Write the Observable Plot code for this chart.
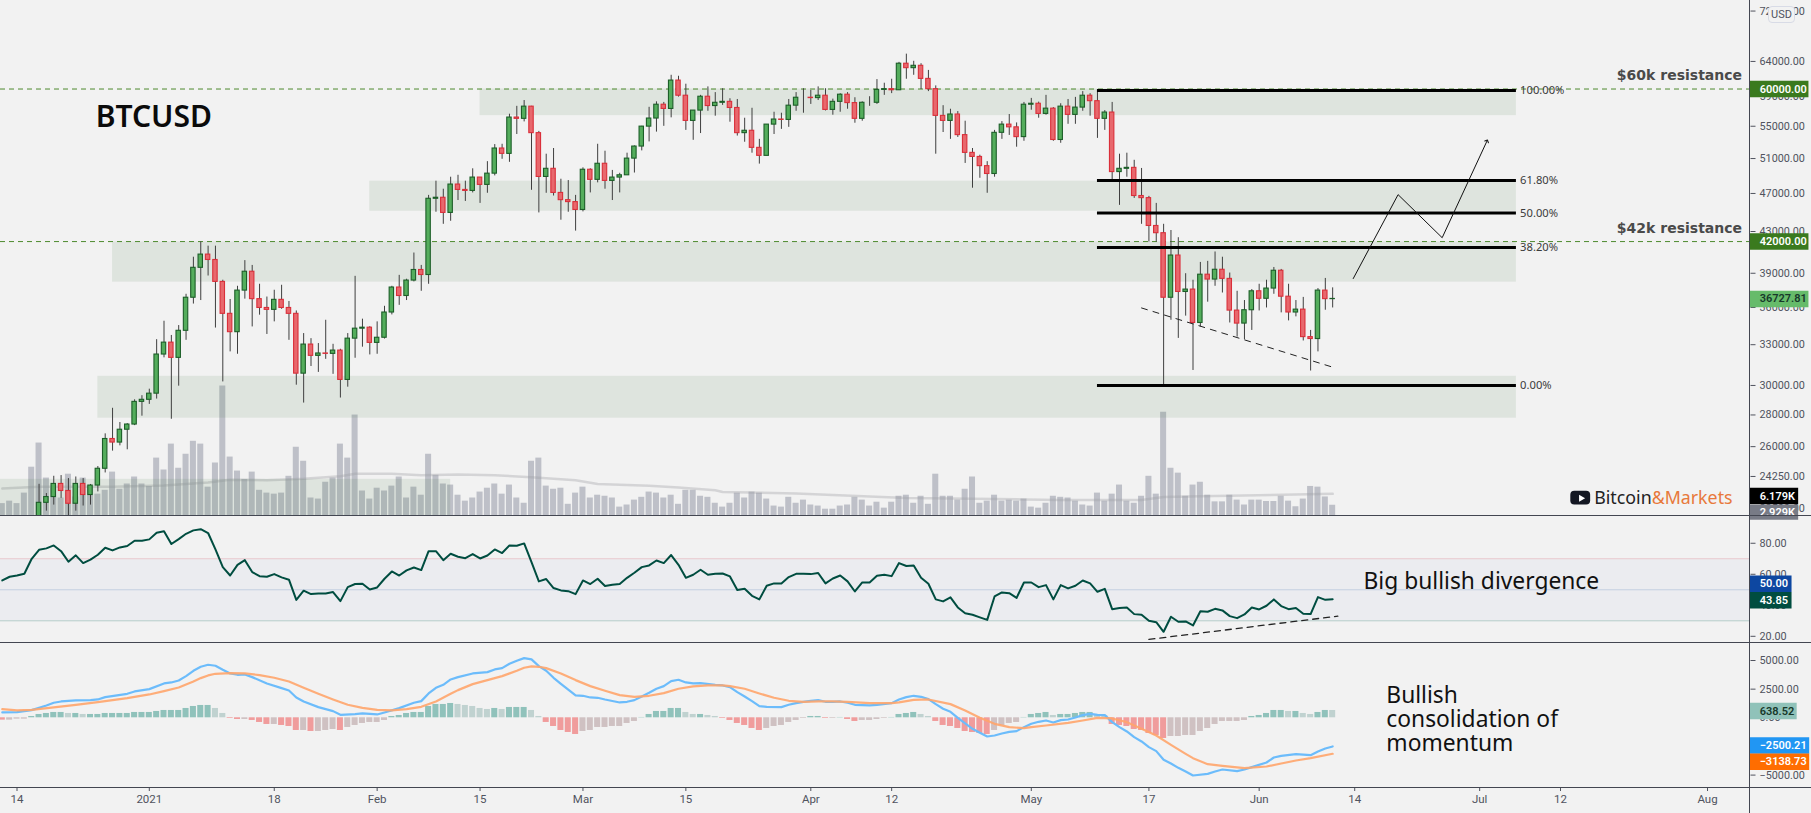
<!DOCTYPE html>
<html><head><meta charset="utf-8">
<script src="https://cdn.jsdelivr.net/npm/d3@7"></script>
<script src="https://cdn.jsdelivr.net/npm/@observablehq/plot@0.6"></script>
<style>
html,body{margin:0;padding:0;background:#f2f2f2;overflow:hidden}
#stage{position:relative;width:1811px;height:813px;background:#f2f2f2;overflow:hidden;font-family:Roboto,sans-serif}
#stage svg{position:absolute;left:0;background:transparent;max-width:none}
.sep{position:absolute;background:#434651;z-index:20}
#usd{position:absolute;left:1768px;top:6px;width:25px;height:15px;line-height:15px;text-align:center;border:1px solid #d8dbe6;border-radius:4px;background:#f2f2f2;color:#50535e;font-size:11px;z-index:30}
</style></head>
<body><div id="stage"><div id="usd">USD</div></div>
<script>
// Daily candles, 2020-12-17 through 2021-06-11
const firstOpen = 21300;
const closes = [
22800,23110,23830,23440,22750,23830,23220,23740,24690,26470,
26250,27050,27380,28870,29010,29430,32250,33160,32000,34090,
36830,39500,40740,40230,38220,35470,33980,37450,39140,36710,
35960,35800,36650,35960,35470,30840,33010,32150,32330,32300,
32550,30390,33470,34260,34340,33140,33540,35580,37720,36980,
38340,39300,38840,46420,46530,44910,47990,47390,47280,48780,
47950,49230,52210,51560,56130,55960,57580,54120,48850,49790,
47060,46270,46060,45220,49680,48520,50380,48400,48780,49040,
50990,52450,54950,56000,57840,57270,61200,59070,55690,57050,
58930,57660,58100,58230,57400,54120,54420,52290,51320,55210,
55870,55820,57710,58790,58790,58740,59070,57140,58230,59210,
58060,55960,58100,58100,59880,59980,59830,63660,63000,63350,
61440,59980,56350,55690,56530,53870,51680,51190,50100,49190,
54160,55210,54860,53620,57840,57970,56610,57310,53260,57580,
56480,57450,59070,58320,55960,56790,49410,49790,49900,46720,
46490,43560,42830,36830,40650,37330,37540,34720,38870,38430,
39320,38490,35740,34670,35770,37390,36740,37630,39230,36920,
35580,35820,33590,33440,37450,36710,36727.81];
const highs = [
23810,23300,24260,24300,24130,24220,24130,23800,24820,26790,
28440,27510,27440,29010,29290,29740,33390,34860,33720,34510,
37130,40490,41960,41550,41550,38370,36680,37830,40170,39720,
38010,36890,37480,37920,36510,35710,33870,33470,33090,34940,
33030,32650,33870,38720,35030,34420,34810,36100,37830,38810,
38460,40890,39720,46790,48370,47470,48820,49040,48370,49790,
48740,50630,52690,52730,56570,57620,58410,57620,54340,51520,
52210,48590,48440,46790,49900,49790,52730,51880,49600,49270,
51640,52530,54990,57490,58230,58150,61960,61820,60680,57050,
59120,60300,59500,60040,58650,58550,56040,57360,53340,55210,
56830,56700,58550,59500,60040,59800,60300,60040,58600,59350,
59500,58790,58230,58930,61340,60820,61390,63860,65100,64020,
63660,62670,60440,57710,57230,56920,55650,52210,51400,50630,
54470,55600,56530,55430,58150,58700,58190,59120,57450,57970,
58550,58840,59640,59350,59790,57050,58150,51520,51640,50790,
49830,46680,45920,43730,43100,42380,38960,38370,40000,40100,
40990,40490,39020,37390,36590,37540,38010,38370,39530,39350,
38010,36590,36860,34120,37630,38530,37690];
const lows = [
21250,22360,22680,23040,21900,22360,22630,22680,23390,24450,
25730,26050,25810,27310,27920,28700,29060,32000,27720,29950,
33340,36290,36590,38750,34310,30250,32450,32270,36710,34400,
35360,33800,34810,35850,33340,30020,28790,31360,30930,31890,
30790,29130,29880,31970,32810,32220,32270,33440,35380,36180,
36590,38220,37390,38010,44980,43730,44040,46230,46130,47060,
45920,47020,48970,50910,50550,53950,55560,47350,44910,47020,
46720,44150,44980,43040,45020,47060,48180,47470,46230,47060,
49300,49300,51920,53020,54250,54990,56090,58880,54470,53220,
54070,56960,56310,57750,55520,53750,52980,51640,50340,51320,
53950,54600,54860,56960,56700,57880,58410,57000,56440,56830,
57230,55390,55650,57620,57880,59120,59360,59790,61390,61960,
59930,59640,51520,54200,53340,53580,50420,47580,48700,47020,
48820,53340,53830,52370,53100,57100,56040,56440,53100,52850,
55250,55250,56960,56310,53460,54470,48480,45710,48820,46460,
43730,41960,41960,30040,34940,33490,35280,31070,34400,36450,
37830,37240,34720,33590,33390,34120,35710,35960,37130,35550,
34890,35220,33290,31030,32450,35770,35960];

// Volume (thousands), 2020-12-12 through 2021-06-11
const volumes = [
3.4,4.1,3.4,6.4,13.8,20.7,10.7,7.7,5.0,11.8,5.3,10.7,8.2,6.1,7.2,12.4,7.5,9.0,11.0,9.0,
8.3,16.4,13.0,20.4,13.5,17.5,21.2,20.4,8.1,15.0,37.0,16.7,12.7,10.3,12.4,7.2,6.4,6.1,6.4,11.2,19.5,15.5,5.0,4.7,9.5,10.7,20.4,16.4,28.7,7.0,4.7,
7.8,7.0,8.4,11.0,5.0,8.1,5.8,17.5,11.5,9.0,8.7,5.8,4.1,5.0,6.7,7.8,9.0,6.1,8.7,5.0,3.5,15.5,16.4,8.4,7.5,7.8,3.2,6.4,
8.1,5.0,5.8,5.5,5.0,2.4,3.0,4.4,5.2,6.7,6.4,5.0,5.8,3.2,7.2,7.2,5.5,5.2,3.5,2.4,3.5,6.4,5.0,6.7,6.4,4.7,2.7,2.4,5.2,3.5,4.4,
3.0,2.7,1.8,1.8,2.7,3.0,5.2,4.4,2.7,3.8,2.1,3.8,5.5,5.8,3.5,5.5,3.2,11.8,5.5,5.5,4.4,7.5,11.0,3.5,4.1,5.8,4.1,4.4,4.1,4.7,
2.4,2.1,3.5,5.5,5.2,5.0,4.1,3.0,2.7,6.4,4.1,6.1,8.7,4.1,3.5,5.5,11.2,6.1,29.5,13.5,12.1,5.5,8.7,9.5,5.8,3.9,3.9,5.8,4.4,3.0,4.4,
4.4,4.0,4.0,5.5,4.1,2.5,4.7,8.3,8.1,5.3,2.929];
const volumeMaDays = [-2,3,13,20,26,29,34,39,44,46,51,55,60,65,70,76,79,86,90,95,96,106,121,137,142,153,156,161,179];
const volumeMa = [7.7,8.2,8.2,8.6,9.4,10.2,10.1,10.5,11.2,11.9,11.9,11.5,11.7,11.5,10.9,10.1,9.0,8.5,8.0,7.2,6.7,6.3,5.0,4.6,4.4,4.4,5.3,5.5,6.179];

// RSI, daily from 2020-12-12
const rsi = [
56.0,58.4,59.2,60.3,70.0,75.8,76.7,78.6,74.9,68.1,72.2,67.2,69.4,72.6,77.1,75.4,77.3,78.2,81.6,81.6,
82.5,86.8,87.8,79.5,82.7,86.1,88.3,89.1,86.6,76.0,64.6,59.2,66.1,69.1,61.4,58.8,58.4,60.1,58.0,56.5,43.5,49.4,47.2,47.6,47.6,48.5,42.7,51.7,53.7,53.9,50.2,
51.5,57.1,61.8,59.2,62.5,64.4,62.7,74.9,74.9,69.1,73.2,71.3,70.4,73.0,70.2,72.1,76.0,73.7,78.6,78.4,79.9,67.8,55.4,56.9,51.1,49.6,49.1,47.2,
56.0,53.7,57.1,52.4,53.2,53.7,57.7,61.0,64.6,65.7,68.9,67.2,72.4,66.1,57.7,59.7,62.9,59.7,60.3,60.5,58.6,49.8,50.6,46.1,43.8,52.6,54.1,54.1,58.2,60.3,60.3,60.1,
60.8,54.1,57.3,59.2,55.4,48.9,54.7,54.7,59.0,59.7,58.8,67.2,65.3,65.7,57.7,53.9,43.8,42.5,45.1,38.6,34.9,33.9,32.2,30.6,45.7,48.3,47.8,44.8,54.7,54.7,51.7,53.0,
43.8,53.0,50.9,52.6,56.0,54.1,48.7,50.6,37.5,38.2,38.6,34.3,33.9,30.0,29.1,22.9,32.6,29.4,29.6,27.0,36.2,35.8,37.7,36.7,33.0,31.7,34.1,38.6,37.3,39.7,43.8,
39.5,37.5,38.2,34.5,34.3,45.3,43.5,43.85];
const rsiDivergenceDays = [154,179.7];
const rsiDivergence = [18,33];

// MACD histogram, daily from 2020-12-12
const macdHist = [
-204,-204,-116,-116,116,291,378,466,466,378,378,291,291,291,378,378,378,378,466,466,
466,553,640,640,640,815,989,1077,1077,815,378,-58,-146,-146,-233,-407,-582,-582,-669,-757,-1106,-1106,-1193,-1193,-1106,-1019,-1106,-844,-669,-495,-407,
-407,-233,116,204,378,466,466,989,1164,1164,1250,1164,1077,989,815,728,815,728,902,902,902,640,116,-407,-757,-1106,-1280,-1455,
-1193,-1106,-844,-844,-757,-757,-495,-320,29,291,553,553,815,815,466,291,291,204,116,-58,-233,-495,-669,-931,-1106,-931,-757,-669,-407,-233,-58,116,
116,-58,-58,29,-146,-320,-233,-233,-146,-58,29,291,378,466,291,116,-320,-669,-757,-931,-1193,-1280,-1368,-1455,-1106,-669,-495,-407,29,291,378,466,
204,291,291,378,466,466,291,204,-582,-669,-757,-1019,-1106,-1368,-1542,-1804,-1630,-1630,-1542,-1542,-1193,-931,-582,-320,-320,-320,-233,116,204,
378,640,640,553,553,378,291,466,640,638.52];
const macdDays = [-2,0,2,4,5,6,8,10,11,12,15,16,18,20,21,22,23,24,25,26,27,28,29,30,31,32,34,36,37,38,39,41,43,44,46,47,49,50,52,54,55,56,57,58,59,
60,62,64,65,66,67,68,69,70,71,72,73,74,76,77,78,79,80,82,83,84,85,86,87,88,89,90,91,92,93,95,96,97,98,99,100,101,102,104,105,106,107,108,109,110,111,112,113,114,116,117,119,120,
121,122,123,124,125,126,127,128,129,130,131,132,133,134,135,136,137,138,139,140,141,142,143,144,145,146,147,148,149,150,151,152,153,154,155,156,157,158,159,160,162,163,164,166,167,168,170,171,172,174,176,177,178,179];
const macdLine = [466,495,669,1077,1310,1426,1513,1542,1600,1804,2095,2299,2503,2997,3085,3259,3638,4103,4452,4627,4540,4190,3870,3754,3783,3550,2997,2590,2386,1775,1426,931,582,262,320,378,291,466,844,1310,1455,2124,2619,2881,3347,
3550,3870,3987,4220,4336,4714,4976,5209,5093,4511,4103,3492,2968,1950,1921,1775,1746,1600,1339,1397,1542,1862,2183,2532,2765,3201,3317,3085,2997,3026,2881,2823,2677,2241,1862,1455,1019,960,931,1135,1280,1397,1484,1542,1397,1397,1426,1310,1135,1077,1135,1280,1600,
1804,1921,1833,1630,1193,786,524,0,-495,-960,-1310,-1630,-1542,-1368,-1222,-1164,-815,-524,-349,-233,-407,-204,-146,29,233,349,262,233,-378,-815,-1193,-1688,-2066,-2561,-2910,-3667,-3987,-4365,-4685,-5034,-4889,-4685,-4511,-4656,-4511,-4307,-3899,-3463,-3317,-3172,-3259,-2939,-2677,-2500.21];
const signalDays = [-2,0,2,5,8,11,15,18,20,22,24,25,26,27,29,31,33,35,37,39,41,43,45,47,49,51,53,55,57,59,
60,61,62,64,66,68,69,70,71,72,74,75,76,78,80,82,84,86,88,90,92,94,96,97,99,101,103,105,107,109,111,113,116,119,120,
122,124,127,129,131,133,135,137,138,140,143,145,147,149,151,153,155,157,159,160,162,164,167,170,172,174,176,179];
const signalLine = [757,640,698,902,1135,1368,1717,2037,2328,2648,3172,3463,3696,3841,3899,3870,3725,3492,3172,2619,2095,1600,1135,873,698,640,757,960,1426,2095,
2415,2677,2939,3288,3638,4103,4365,4481,4452,4336,3870,3579,3288,2765,2357,1979,1833,1921,2153,2532,2735,2823,2823,2765,2532,2124,1746,1484,1397,1426,1426,1397,1280,1280,1339,
1571,1600,1193,640,0,-524,-815,-902,-815,-669,-437,-233,0,-58,-378,-960,-1542,-2357,-3143,-3521,-4045,-4190,-4394,-4249,-3987,-3725,-3521,-3138.73];

// Reference levels and annotations
const resistances = [60000,42000];
const fibLevels = [59780,48440,44910,41410,29990];
const fibLabels = ["100.00%","61.80%","50.00%","38.20%","0.00%"];
const zoneFrom = [63,48,13,11,-3];
const zoneTo = [204,204,204,204,59];
const zoneTop = [60000,48370,41960,30650,24090];
const zoneBottom = [56380,45090,38200,27790,22134];
const wedgeDays = [153,179];
const wedge = [35960,31310];
const pathDays = [181.8,187.9,193.9,200];
const path = [38520,46870,42380,53140];
const priceTicks = [72000,64000,59000,55000,51000,47000,43000,39000,36000,33000,30000,28000,26000,24250,22500];
const rsiTicks = [80,60,40,20];
const macdTicks = [5000,2500,0,-2500,-5000];
const timeDays = [0,18,35,49,63,77,91,108,119,138,154,169,182,199,210,230];
const timeLabels = ["14","2021","18","Feb","15","Mar","15","Apr","12","May","17","Jun","14","Jul","12","Aug"];

const INK="#50535e", UP="#54ad5c", UPB="#1c5e28", DOWN="#e8686d", DOWNB="#da2f3a", WICK="#3f3f3f";
const FONT="Roboto, sans-serif", TEXT="'Noto Sans', sans-serif";
const day = d => new Date(Date.UTC(2020,11,14)+d*864e5);
const xDomain = [day(-2.245), day(235.78)];
const base = {width:1811, marginLeft:0, marginRight:61.5, marginTop:0, marginBottom:0};
const styleOf = top => ({top:top+"px", background:"transparent", overflow:"visible", fontFamily:FONT, fontSize:"10.8px"});
const xOpt = {domain:xDomain, axis:null};
const axisEnd = day(235.78);
const stage = document.getElementById("stage");

const candles = closes.map((c,i)=>({d:3+i, date:day(3+i), open:i?closes[i-1]:firstOpen, close:c, high:highs[i], low:lows[i]}));
const volumeRows = volumes.map((v,i)=>({d:-2+i, v}));
const rsiRows = rsi.map((v,i)=>({d:-2+i, v}));
const histRows = macdHist.map((v,i)=>{
  const p = i?macdHist[i-1]:0;
  return {d:-2+i, v, c: v>=0 ? (v>=p?"#90c2bb":"#c0d2d0") : (v<p?"#f09c9c":"#cfc1c2")};
});
const lineRows = (ds,vs)=>ds.map((d,i)=>({d,v:vs[i]}));
const zones = zoneFrom.map((f,i)=>({f,t:zoneTo[i],a:zoneTop[i],b:zoneBottom[i]}));
const fibs = fibLevels.map((v,i)=>({v,label:fibLabels[i]}));
const tagMarks = (tags) => [
  Plot.ruleY(tags,{y:"at",x1:axisEnd,x2:d=>day(d.end),stroke:"bg",strokeWidth:d=>d.h||16.5}),
  Plot.text(tags,{x:day(237.1),y:"at",text:"label",fill:"ink",textAnchor:"start",fontWeight:600,fontSize:11,fontFamily:FONT})
];

// Volume layer
const volumePane = Plot.plot({...base, height:515, style:styleOf(0), x:xOpt,
  y:{domain:[0,147.14], axis:null}, color:{type:"identity"},
  marks:[
    Plot.rectY(volumeRows,{x1:d=>day(d.d-0.41),x2:d=>day(d.d+0.41),y1:0,y2:"v",fill:"#bec0c8"}),
    Plot.line(lineRows(volumeMaDays,volumeMa),{x:d=>day(d.d),y:"v",stroke:"#9e9ea2",strokeOpacity:.35,strokeWidth:2.5})
  ]});
stage.appendChild(volumePane);

// Price pane
const pricePane = Plot.plot({...base, height:515, style:styleOf(0), x:xOpt,
  y:{type:"log", domain:[22134,73800], range:[515,0], axis:null},
  color:{type:"identity"},
  marks:[
    Plot.rect(zones,{x1:d=>day(d.f),x2:d=>day(d.t),y1:"a",y2:"b",fill:"#2e6b2e",fillOpacity:.1}),
    Plot.ruleY(resistances,{x1:xDomain[0],x2:axisEnd,stroke:"#4d8a2e",strokeWidth:1,strokeDasharray:"5 4"}),
    Plot.ruleX(candles,{x:"date",y1:"low",y2:"high",stroke:WICK,strokeWidth:1,clip:true}),
    Plot.rect(candles,{filter:d=>d.close>=d.open,x1:d=>day(d.d-0.3),x2:d=>day(d.d+0.3),y1:"open",y2:"close",fill:UP,stroke:UPB,strokeWidth:1.1,clip:true}),
    Plot.rect(candles,{filter:d=>d.close<d.open,x1:d=>day(d.d-0.3),x2:d=>day(d.d+0.3),y1:"open",y2:"close",fill:DOWN,stroke:DOWNB,strokeWidth:1.1,clip:true}),
    Plot.ruleY(fibs,{y:"v",x1:day(147),x2:day(204),stroke:"#000",strokeWidth:3}),
    Plot.text(fibs,{x:day(204.5),y:"v",text:"label",textAnchor:"start",fill:"#3a3a3a",fontSize:11.2,fontFamily:TEXT}),
    Plot.line(lineRows(wedgeDays,wedge),{x:d=>day(d.d),y:"v",stroke:"#222",strokeWidth:1,strokeDasharray:"6 6"}),
    Plot.line(lineRows(pathDays,path),{x:d=>day(d.d),y:"v",stroke:"#111",strokeWidth:1,markerEnd:"arrow"}),
    Plot.text(["BTCUSD"],{x:day(10.7),y:56200,text:d=>d,textAnchor:"start",fontSize:30,fontWeight:600,fill:"#0b0b0b",fontFamily:TEXT}),
    Plot.text(["$60k resistance"],{x:day(234.7),y:61920,text:d=>d,textAnchor:"end",fontSize:14,fontWeight:700,fill:"#4a4a4a",fontFamily:"'DejaVu Sans', sans-serif"}),
    Plot.text(["$42k resistance"],{x:day(234.7),y:43330,text:d=>d,textAnchor:"end",fontSize:14,fontWeight:700,fill:"#4a4a4a",fontFamily:"'DejaVu Sans', sans-serif"}),
    Plot.rect([0],{x1:day(211.4),x2:day(214.1),y1:23424,y2:22690,rx:4,fill:"#131722"}),
    Plot.dot([0],{x:day(212.8),y:23040,symbol:"triangle",r:2.6,rotate:90,fill:"#fff"}),
    Plot.text(["Bitcoin"],{x:day(222.4),y:23040,text:d=>d,textAnchor:"end",fontSize:17.8,fill:"#222",fontFamily:TEXT}),
    Plot.text(["&Markets"],{x:day(222.4),y:23040,text:d=>d,textAnchor:"start",fontSize:17.8,fill:"#e8793b",fontFamily:TEXT}),
    Plot.axisY(priceTicks,{anchor:"right",tickSize:5,tickPadding:4.5,tickFormat:d3.format(".2f"),color:INK,label:null}),
    ...tagMarks([
      {at:60000,end:243.8,bg:"#3a7a1e",ink:"#fff",label:"60000.00"},
      {at:42000,end:243.8,bg:"#3a7a1e",ink:"#fff",label:"42000.00"},
      {at:36727.81,end:243.8,bg:"#66bb6a",ink:"#17382a",label:"36727.81"}
    ])
  ]});
stage.appendChild(pricePane);

// Volume value labels, above the price pane
const volumeTags = Plot.plot({...base, height:515, style:styleOf(0), x:xOpt,
  y:{domain:[0,147.14], axis:null}, color:{type:"identity"},
  marks:tagMarks([
    {at:5.57,end:242.4,bg:"#000",ink:"#fff",label:"6.179K"},
    {at:0.94,end:242.4,bg:"#787b86",ink:"#fff",label:"2.929K",h:15}
  ])});
stage.appendChild(volumeTags);

// RSI pane
const rsiPane = Plot.plot({...base, height:127, style:styleOf(515), x:xOpt,
  y:{domain:[16,97.9], axis:null}, color:{type:"identity"},
  marks:[
    Plot.rect([0],{x1:xDomain[0],x2:axisEnd,y1:30,y2:70,fill:"#ebecf0"}),
    Plot.ruleY([70],{x1:xDomain[0],x2:axisEnd,stroke:"#eac9cc"}),
    Plot.ruleY([50],{x1:xDomain[0],x2:axisEnd,stroke:"#c4cfe2"}),
    Plot.ruleY([30],{x1:xDomain[0],x2:axisEnd,stroke:"#b6cdc9"}),
    Plot.line(rsiRows,{x:d=>day(d.d),y:"v",stroke:"#004d40",strokeWidth:2}),
    Plot.line(lineRows(rsiDivergenceDays,rsiDivergence),{x:d=>day(d.d),y:"v",stroke:"#222",strokeWidth:1.3,strokeDasharray:"6 5"}),
    Plot.text(["Big bullish divergence"],{x:day(183.2),y:54.9,text:d=>d,textAnchor:"start",fontSize:22.8,fill:"#111",fontFamily:TEXT}),
    Plot.axisY(rsiTicks,{anchor:"right",tickSize:5,tickPadding:4.5,tickFormat:d3.format(".2f"),color:INK,label:null}),
    ...tagMarks([
      {at:53.9,end:241.5,bg:"#0d47a1",ink:"#fff",label:"50.00"},
      {at:43.3,end:241.5,bg:"#004d40",ink:"#fff",label:"43.85"}
    ])
  ]});
stage.appendChild(rsiPane);

// MACD pane with the time axis
const timeMap = new Map(timeDays.map((d,i)=>[+day(d),timeLabels[i]]));
const macdPane = Plot.plot({...base, height:171, marginBottom:26, style:styleOf(642), x:xOpt,
  y:{domain:[-6082,6571], axis:null}, color:{type:"identity"},
  marks:[
    Plot.rectY(histRows,{x1:d=>day(d.d-0.41),x2:d=>day(d.d+0.41),y1:0,y2:"v",fill:"c"}),
    Plot.line(lineRows(macdDays,macdLine),{x:d=>day(d.d),y:"v",stroke:"#6cbcfb",strokeWidth:2.2}),
    Plot.line(lineRows(signalDays,signalLine),{x:d=>day(d.d),y:"v",stroke:"#ffa56b",strokeWidth:2.2,strokeOpacity:.9}),
    Plot.text(["Bullish","consolidation of","momentum"],{x:day(186.3),y:(d,i)=>[1946,-148,-2243][i],text:d=>d,textAnchor:"start",fontSize:22.8,fill:"#111",fontFamily:TEXT}),
    Plot.axisY(macdTicks,{anchor:"right",tickSize:5,tickPadding:4.5,tickFormat:d3.format(".2f"),color:INK,label:null}),
    Plot.axisX(timeDays.map(day),{anchor:"bottom",tickSize:4,tickPadding:3,tickFormat:d=>timeMap.get(+d),color:INK,label:null,fontSize:11.5}),
    ...tagMarks([
      {at:593,end:242.2,bg:"#90c2b9",ink:"#17382a",label:"638.52"},
      {at:-2417,end:243.9,bg:"#2196f3",ink:"#fff",label:"\u22122500.21"},
      {at:-3840,end:243.9,bg:"#ff6d00",ink:"#fff",label:"\u22123138.73"}
    ])
  ]});
stage.appendChild(macdPane);

// Pane separators and the price-scale edge
[[0,515,1811,1.3],[0,642,1811,1.3],[0,787,1811,1.3],[1749,0,1.3,813]].forEach(([l,t,w,h])=>{
  const e=document.createElement("div"); e.className="sep";
  e.style.cssText=`left:${l}px;top:${t-.5}px;width:${w}px;height:${h}px`; stage.appendChild(e);
});
</script>
</body></html>
